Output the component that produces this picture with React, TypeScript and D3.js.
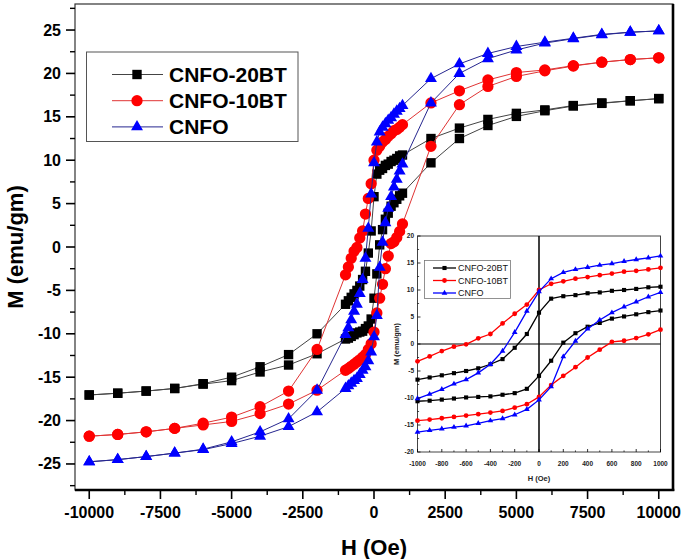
import * as d3 from 'd3'

// field values, descending branch (+10 kOe -> -10 kOe) and ascending branch
const H_DOWN = [10000, 9000, 8000, 7000, 6000, 5000, 4000, 3000, 2000,
  1000, 900, 800, 700, 600, 500, 400, 300, 200, 100, 0,
  -100, -200, -300, -400, -500, -600, -700, -800, -900, -1000,
  -2000, -3000, -4000, -5000, -6000, -7000, -8000, -9000, -10000]
const H_UP = [...H_DOWN].reverse()

const bt20Down = [17.1, 16.85, 16.6, 16.3, 15.8, 15.4, 14.7, 13.7, 12.5,
  10.6, 10.5, 10.2, 10.0, 9.85, 9.55, 9.4, 9.05, 8.85, 8.4, 5.8,
  1.85, -0.7, -2.8, -3.75, -4.5, -5.0, -5.4, -5.8, -6.2, -6.6,
  -10.0, -12.4, -13.8, -15.0, -15.75, -16.3, -16.6, -16.85, -17.05]
const bt20Up = [-17.05, -16.85, -16.6, -16.3, -15.8, -15.4, -14.4, -13.6, -12.3,
  -10.6, -10.5, -10.3, -10.1, -9.9, -9.8, -9.7, -9.4, -9.1, -8.3, -5.9,
  -3.1, 0.25, 2.0, 3.2, 3.9, 4.7, 5.1, 5.5, 5.9, 6.2,
  9.7, 12.5, 14.0, 15.05, 15.7, 16.25, 16.55, 16.85, 17.1]

const bt10Down = [21.8, 21.6, 21.3, 20.9, 20.4, 20.1, 19.25, 18.0, 16.6,
  14.1, 13.8, 13.55, 13.4, 13.05, 12.75, 12.4, 12.1, 11.6, 11.15, 10.0,
  7.3, 5.6, 3.8, 1.85, 1.05, -0.05, -0.5, -1.3, -2.3, -3.2,
  -11.8, -16.6, -18.4, -19.6, -20.3, -20.9, -21.3, -21.6, -21.8]
const bt10Up = [-21.8, -21.6, -21.3, -20.9, -20.5, -20.1, -19.2, -18.1, -16.5,
  -14.2, -14.0, -13.75, -13.5, -13.25, -13.0, -12.7, -12.4, -11.8, -11.15, -9.8,
  -7.6, -5.9, -4.3, -2.5, -1.05, 0.4, 0.6, 1.1, 1.8, 2.65,
  11.6, 16.4, 18.5, 19.65, 20.3, 20.85, 21.3, 21.6, 21.8]

const cnfoDown = [24.9, 24.75, 24.5, 24.05, 23.6, 23.1, 22.3, 21.1, 19.4,
  16.3, 15.95, 15.65, 15.3, 14.9, 14.6, 14.2, 13.8, 13.25, 12.1, 9.7,
  6.1, 2.15, -1.3, -3.75, -5.35, -6.6, -7.4, -8.4, -9.3, -10.1,
  -16.5, -19.8, -21.3, -22.45, -23.3, -23.75, -24.15, -24.5, -24.75]
const cnfoUp = [-24.75, -24.5, -24.15, -23.75, -23.35, -22.65, -21.8, -20.7, -19.0,
  -16.3, -16.0, -15.7, -15.4, -15.15, -14.7, -14.2, -13.8, -13.1, -12.1, -10.35,
  -7.9, -2.35, 0.55, 2.8, 4.45, 5.8, 6.9, 7.8, 8.75, 9.55,
  16.6, 20.0, 21.7, 22.7, 23.5, 24.0, 24.45, 24.75, 24.9]

const seriesNames = ['CNFO-20BT', 'CNFO-10BT', 'CNFO']

const xTicks = [-10000, -7500, -5000, -2500, 0, 2500, 5000, 7500, 10000]
const yTicks = [-25, -20, -15, -10, -5, 0, 5, 10, 15, 20, 25]
const insetXTicks = [-1000, -800, -600, -400, -200, 0, 200, 400, 600, 800, 1000]
const insetYTicks = [-20, -15, -10, -5, 0, 5, 10, 15, 20]

type Pt = { h: number; m: number }
const zip = (hs: number[], ms: number[]): Pt[] => hs.map((h, i) => ({ h, m: ms[i] }))

const series = [
  { name: seriesNames[0], down: zip(H_DOWN, bt20Down), up: zip(H_UP, bt20Up), fill: '#000', line: '#444', sym: d3.symbolSquare, size: 88, small: 17 },
  { name: seriesNames[1], down: zip(H_DOWN, bt10Down), up: zip(H_UP, bt10Up), fill: '#ff0000', line: '#e03434', sym: d3.symbolCircle, size: 100, small: 18 },
  { name: seriesNames[2], down: zip(H_DOWN, cnfoDown), up: zip(H_UP, cnfoUp), fill: '#0000ff', line: '#26268f', sym: d3.symbolTriangle, size: 62, small: 14 },
]

const FONT = 'Arial, "Liberation Sans", Helvetica, sans-serif'

export default function App() {
  const x = d3.scaleLinear().domain([-10500, 10500]).range([75, 673])
  const y = d3.scaleLinear().domain([-28, 28]).range([490, 4])

  const ix = d3.scaleLinear().domain([-1000, 1000]).range([417.5, 660.5])
  const iy = d3.scaleLinear().domain([-20, 20]).range([452, 236])

  const line = d3.line<Pt>().x(d => x(d.h)).y(d => y(d.m))
  const iline = d3.line<Pt>().x(d => ix(d.h)).y(d => iy(d.m))

  const minorX = xTicks.slice(1).map((t, i) => (t + xTicks[i]) / 2)
  const minorY = [-27.5, ...yTicks.map(t => t + 2.5)].filter(v => v <= 28)
  const iMinorX = insetXTicks.slice(1).map((t, i) => (t + insetXTicks[i]) / 2)
  const iMinorY = insetYTicks.slice(1).map((t, i) => (t + insetYTicks[i]) / 2)

  const inInset = (p: Pt) => p.h >= -1000 && p.h <= 1000

  const [x0, x1] = x.range()
  const [y0, y1] = y.range()

  return (
    <svg width={685} height={559} style={{ position: 'absolute', left: 0, top: 0, background: '#fff' }} fontFamily={FONT}>
      <rect width={685} height={559} fill="#fff" />

      {/* data */}
      {series.map(s => (
        <g key={s.name}>
          <path d={line(s.down) ?? ''} fill="none" stroke={s.line} strokeWidth={1} />
          <path d={line(s.up) ?? ''} fill="none" stroke={s.line} strokeWidth={1} />
          {[...s.down, ...s.up].map((p, i) => (
            <path key={i} transform={`translate(${x(p.h)},${y(p.m)})`}
              d={d3.symbol(s.sym, s.size)() ?? ''} fill={s.fill} />
          ))}
        </g>
      ))}

      {/* frame */}
      <rect x={x0} y={y1} width={x1 - x0} height={y0 - y1} fill="none" stroke="#333" strokeWidth={1.2} />
      <line x1={x1} x2={x1} y1={y1} y2={y0 + 1} stroke="#000" strokeWidth={2.6} />
      <line x1={x0} x2={x1 + 1.3} y1={y0} y2={y0} stroke="#000" strokeWidth={2.4} />

      {/* x axis */}
      {xTicks.map(t => (
        <g key={t}>
          <line x1={x(t)} x2={x(t)} y1={y0} y2={y0 + 9} stroke="#000" strokeWidth={1.6} />
          <text x={x(t)} y={518} textAnchor="middle" fontSize={16} fontWeight="bold">{t}</text>
        </g>
      ))}
      {minorX.map(t => (
        <line key={t} x1={x(t)} x2={x(t)} y1={y0} y2={y0 + 5} stroke="#000" strokeWidth={1.4} />
      ))}

      {/* y axis */}
      {yTicks.map(t => (
        <g key={t}>
          <line x1={x0 - 9} x2={x0} y1={y(t)} y2={y(t)} stroke="#000" strokeWidth={1.6} />
          <text x={61} y={y(t) + 5.5} textAnchor="end" fontSize={16} fontWeight="bold">{t}</text>
        </g>
      ))}
      {minorY.map(t => (
        <line key={t} x1={x0 - 5} x2={x0} y1={y(t)} y2={y(t)} stroke="#000" strokeWidth={1.4} />
      ))}

      <text x={374} y={555} textAnchor="middle" fontSize={22} fontWeight="bold">H (Oe)</text>
      <text transform="translate(23,247) rotate(-90)" textAnchor="middle" fontSize={22} fontWeight="bold">M (emu/gm)</text>

      {/* legend */}
      <rect x={86.5} y={52} width={211.5} height={89.5} fill="#fff" stroke="#555" strokeWidth={1} />
      {series.map((s, i) => {
        const ly = 74.5 + i * 26.2
        return (
          <g key={s.name}>
            <line x1={112} x2={163} y1={ly} y2={ly} stroke={s.line} strokeWidth={1} />
            <path transform={`translate(137,${ly})`} d={d3.symbol(s.sym, s.size)() ?? ''} fill={s.fill} />
            <text x={169} y={ly + 7.5} fontSize={21} fontWeight="bold">{s.name}</text>
          </g>
        )
      })}

      {/* inset */}
      <g>
        <rect x={ix(-1000)} y={iy(20)} width={ix(1000) - ix(-1000)} height={iy(-20) - iy(20)} fill="#fff" stroke="#444" strokeWidth={1} />
        <line x1={ix(0)} x2={ix(0)} y1={iy(20)} y2={iy(-20)} stroke="#000" strokeWidth={1.5} />
        <line x1={ix(-1000)} x2={ix(1000)} y1={iy(0)} y2={iy(0)} stroke="#000" strokeWidth={1.2} />
        {series.map(s => {
          const d = s.down.filter(inInset)
          const u = s.up.filter(inInset)
          return (
            <g key={s.name}>
              <path d={iline(d) ?? ''} fill="none" stroke={s.fill} strokeWidth={1.3} />
              <path d={iline(u) ?? ''} fill="none" stroke={s.fill} strokeWidth={1.3} />
              {[...d, ...u].map((p, i) => (
                <path key={i} transform={`translate(${ix(p.h)},${iy(p.m)})`}
                  d={d3.symbol(s.sym, s.small)() ?? ''} fill={s.fill} />
              ))}
            </g>
          )
        })}
        {insetXTicks.map(t => (
          <g key={t}>
            <line x1={ix(t)} x2={ix(t)} y1={iy(-20)} y2={iy(-20) - 3} stroke="#000" strokeWidth={0.8} />
            <text x={ix(t)} y={465.5} textAnchor="middle" fontSize={6.5} fontWeight="bold" fill="#222">{t}</text>
          </g>
        ))}
        {iMinorX.map(t => (
          <line key={t} x1={ix(t)} x2={ix(t)} y1={iy(-20)} y2={iy(-20) - 1.6} stroke="#000" strokeWidth={0.7} />
        ))}
        {insetYTicks.map(t => (
          <g key={t}>
            <line x1={ix(-1000)} x2={ix(-1000) + 3} y1={iy(t)} y2={iy(t)} stroke="#000" strokeWidth={0.8} />
            <text x={414} y={iy(t) + 2.3} textAnchor="end" fontSize={6.5} fontWeight="bold" fill="#222">{t}</text>
          </g>
        ))}
        {iMinorY.map(t => (
          <line key={t} x1={ix(-1000)} x2={ix(-1000) + 1.6} y1={iy(t)} y2={iy(t)} stroke="#000" strokeWidth={0.7} />
        ))}
        <text x={539} y={481} textAnchor="middle" fontSize={7.5} fontWeight="bold" fill="#222">H (Oe)</text>
        <text transform="translate(399,344) rotate(-90)" textAnchor="middle" fontSize={7.5} fontWeight="bold" fill="#222">M (emu/gm)</text>

        <rect x={424.5} y={260.5} width={86} height={38} fill="#fff" stroke="#777" strokeWidth={0.8} />
        {series.map((s, i) => {
          const ly = 268 + i * 12.5
          return (
            <g key={s.name}>
              <line x1={433} x2={456} y1={ly} y2={ly} stroke={s.fill} strokeWidth={1.3} />
              <path transform={`translate(444.5,${ly})`} d={d3.symbol(s.sym, s.small)() ?? ''} fill={s.fill} />
              <text x={458} y={ly + 3.2} fontSize={9} fill="#111">{s.name}</text>
            </g>
          )
        })}
      </g>
    </svg>
  )
}
